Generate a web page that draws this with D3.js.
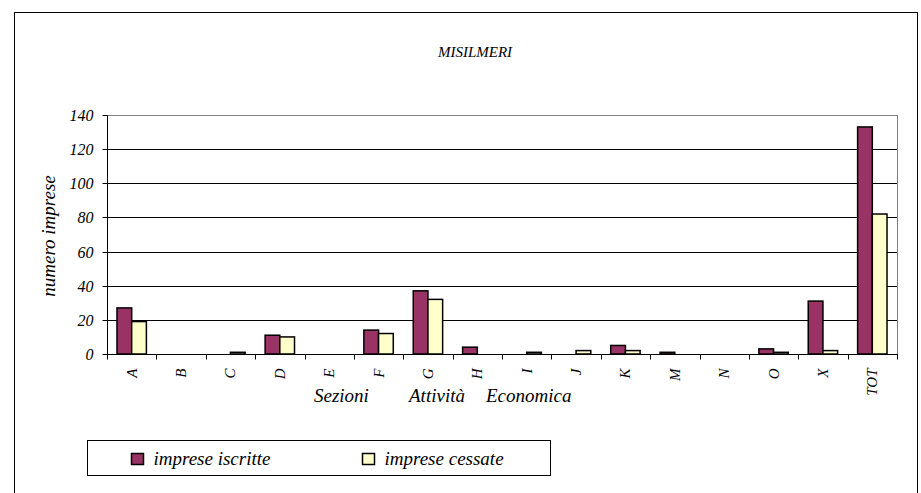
<!DOCTYPE html>
<html><head><meta charset="utf-8">
<script src="https://cdn.jsdelivr.net/npm/d3@7"></script>
<style>body{margin:0;}</style>
</head>
<body><svg id="chart" width="921" height="493" style="font-family:'Liberation Serif';font-style:italic"></svg>
<script>
const categories = ["A","B","C","D","E","F","G","H","I","J","K","M","N","O","X","TOT"];
const iscritte = [27,0,0,11,0,14,37,4,0,0,5,1,0,3,31,133];
const cessate  = [19,0,1,10,0,12,32,0,1,2,2,0,0,1,2,82];
const yTicks = [0,20,40,60,80,100,120,140];
const seriesNames = ["imprese iscritte","imprese cessate"];
const seriesColors = ["#993366","#FFFFCC"];
const title = "MISILMERI";
const yTitle = "numero imprese";
const xTitleParts = ["Sezioni","Attività","Economica"];

function st(sel, size){
  return sel.style("font-family","'Liberation Serif'").style("font-style","italic").style("font-size",size+"px").style("fill","#000");
}

const svg = d3.select("#chart");
svg.append("rect").attr("x",14.5).attr("y",12.5).attr("width",903).attr("height",500)
  .attr("fill","none").attr("stroke","#000").attr("stroke-width",1);

const L=107, R=897, T=115, B=354;
const x = d3.scaleBand().domain(categories).range([L,R]).padding(0);
const y = d3.scaleLinear().domain([0,140]).range([B,T]);
const barW = 14.7;

svg.append("g").selectAll("line").data(yTicks.filter(d=>d>0)).join("line")
  .attr("x1",L).attr("x2",R).attr("y1",d=>Math.round(y(d))+0.5).attr("y2",d=>Math.round(y(d))+0.5)
  .attr("stroke",d=>d===140?"#808080":"#000").attr("stroke-width",1);
svg.append("line").attr("x1",R+0.5).attr("x2",R+0.5).attr("y1",T).attr("y2",B)
  .attr("stroke","#808080");

const data = categories.map((c,i)=>({c, v:[iscritte[i],cessate[i]]}));
const g = svg.append("g");
data.forEach(d=>{
  const cx = x(d.c)+x.bandwidth()/2;
  d.v.forEach((v,k)=>{
    if(v<=0) return;
    g.append("rect")
      .attr("x",cx-barW+k*barW).attr("y",y(v))
      .attr("width",barW).attr("height",B-y(v))
      .attr("fill",seriesColors[k]).attr("stroke","#000").attr("stroke-width",1.5);
  });
});

const ya = svg.append("g").attr("transform",`translate(${L+0.5},0.5)`);
ya.append("line").attr("x1",0).attr("x2",0).attr("y1",T).attr("y2",B).attr("stroke","#000");
ya.selectAll("line.tk").data(yTicks).join("line").attr("class","tk")
  .attr("x1",-5).attr("x2",0).attr("y1",d=>Math.round(y(d))).attr("y2",d=>Math.round(y(d))).attr("stroke","#000");
st(ya.selectAll("text").data(yTicks).join("text"),16)
  .attr("x",-14).attr("y",d=>Math.round(y(d))+5.5).attr("text-anchor","end").text(d=>d);

const xa = svg.append("g").attr("transform",`translate(0,${B+0.5})`);
xa.append("line").attr("x1",L).attr("x2",R+1).attr("y1",0).attr("y2",0).attr("stroke","#000");
const bounds = categories.map(c=>x(c)).concat([R]);
xa.selectAll("line.tk").data(bounds).join("line").attr("class","tk")
  .attr("x1",d=>Math.round(d)+0.5).attr("x2",d=>Math.round(d)+0.5).attr("y1",0).attr("y2",5).attr("stroke","#000");
st(xa.selectAll("text").data(categories).join("text"),15)
  .attr("transform",d=>`translate(${x(d)+x.bandwidth()/2+5},${14}) rotate(-90)`)
  .attr("text-anchor","end").text(d=>d);

const xtPos = [314,409,486];
st(svg.append("g").selectAll("text").data(xTitleParts).join("text"),19)
  .attr("x",(d,i)=>xtPos[i]).attr("y",402).text(d=>d);

st(svg.append("text"),19).attr("transform","translate(55,236) rotate(-90)")
  .attr("text-anchor","middle").text(yTitle);

st(svg.append("text"),15).attr("x",475).attr("y",57).attr("text-anchor","middle")
  .text(title);

svg.append("rect").attr("x",87.5).attr("y",440.5).attr("width",463).attr("height",35)
  .attr("fill","#fff").attr("stroke","#000").attr("stroke-width",1);
const legX = [131.5,362.5];
seriesNames.forEach((n,i)=>{
  svg.append("rect").attr("x",legX[i]).attr("y",453.5).attr("width",12).attr("height",11)
    .attr("fill",seriesColors[i]).attr("stroke","#000").attr("stroke-width",1.5);
  st(svg.append("text"),19).attr("x",legX[i]+22).attr("y",465).text(n);
});
</script></body></html>
